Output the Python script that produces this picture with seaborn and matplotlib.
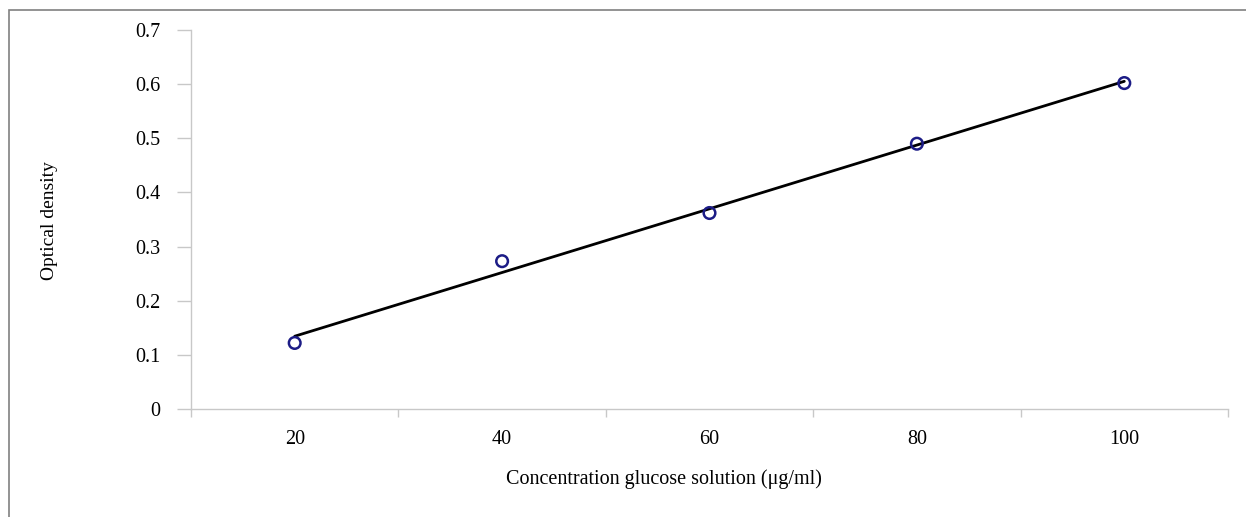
import numpy as np
import pandas as pd
import matplotlib
matplotlib.use("Agg")
import matplotlib.pyplot as plt
import seaborn as sns
from matplotlib.patches import Rectangle

concentration = [20, 40, 60, 80, 100]
optical_density = [0.122, 0.273, 0.362, 0.490, 0.602]
y_ticks = [0, 0.1, 0.2, 0.3, 0.4, 0.5, 0.6, 0.7]
y_tick_labels = ["0", "0.1", "0.2", "0.3", "0.4", "0.5", "0.6", "0.7"]
x_boundaries = [10, 30, 50, 70, 90, 110]

df = pd.DataFrame({"conc": concentration, "od": optical_density})

sns.set_theme(style="white")
plt.rcParams["font.family"] = ["Liberation Serif", "DejaVu Serif"]
plt.rcParams["text.color"] = "black"
plt.rcParams["axes.labelcolor"] = "black"
plt.rcParams["xtick.labelcolor"] = "black"
plt.rcParams["ytick.labelcolor"] = "black"

fig = plt.figure(figsize=(12.46, 5.17), dpi=100)
ax = fig.add_axes([191 / 1246, 1 - 409 / 517, (1228 - 191) / 1246, (409 - 30) / 517])

sns.regplot(data=df, x="conc", y="od", ax=ax, scatter=False, ci=None, truncate=True,
            line_kws=dict(color="black", lw=2.0, zorder=2))
sns.scatterplot(data=df, x="conc", y="od", ax=ax, marker="o", s=70,
                facecolor="none", edgecolor="#1c1c86", linewidth=1.8, zorder=3)

ax.set_xlim(10, 110)
ax.set_ylim(0, 0.7)
ax.set_yticks(y_ticks)
ax.set_yticklabels(y_tick_labels, fontsize=14.5, color="black")
ax.set_xticks(x_boundaries)
ax.set_xticklabels([])
ax.set_xticks(concentration, minor=True)
ax.set_xticklabels([str(c) for c in concentration], minor=True, fontsize=14.5, color="black")
ax.tick_params(axis="x", which="minor", bottom=False, length=0, pad=15)
ax.tick_params(axis="x", which="major", bottom=True, length=6, width=1, color="#c8c8c8", direction="out")
ax.tick_params(axis="y", left=True, length=10, width=1, color="#c8c8c8", direction="out", pad=12)

for s in ["top", "right"]:
    ax.spines[s].set_visible(False)
for s in ["left", "bottom"]:
    ax.spines[s].set_color("#c8c8c8")
    ax.spines[s].set_linewidth(1)

ax.set_xlabel("Concentration glucose solution (μg/ml)", fontsize=14.5, color="black")
ax.set_ylabel("Optical density", fontsize=14, color="black")
ax.xaxis.set_label_coords((664 - 191) / (1228 - 191), -(469 - 409) / (409 - 30))
ax.yaxis.set_label_coords(-(191 - 58) / (1228 - 191), (409 - 221) / (409 - 30))

fig.patches.append(Rectangle((9 / 1246, -0.1), 1.2, 1.1 - 10 / 517, transform=fig.transFigure,
                             fill=False, edgecolor="#808080", lw=1.2))

fig.savefig("out.png", dpi=100, facecolor="white")
